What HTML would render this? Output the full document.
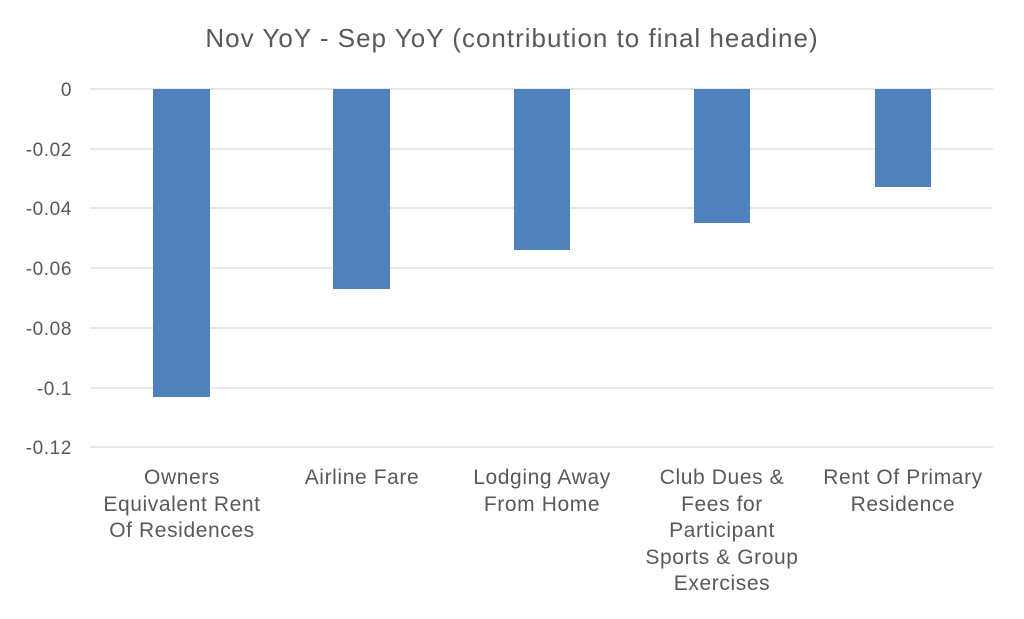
<!DOCTYPE html>
<html><head><meta charset="utf-8"><style>
body{margin:0;background:#fff;}
svg text{font-family:"Liberation Sans",sans-serif;fill:#595959;}
</style></head><body>
<svg width="1024" height="614" xmlns="http://www.w3.org/2000/svg">
<rect width="1024" height="614" fill="#fff"/>
<text x="512" y="47" font-size="26" letter-spacing="1" text-anchor="middle">Nov YoY - Sep YoY (contribution to final headine)</text>
<g stroke="#d9d9d9" stroke-width="1.3">
<line x1="90" x2="993" y1="89" y2="89"/>
<line x1="90" x2="993" y1="149" y2="149"/>
<line x1="90" x2="993" y1="208" y2="208"/>
<line x1="90" x2="993" y1="268" y2="268"/>
<line x1="90" x2="993" y1="328" y2="328"/>
<line x1="90" x2="993" y1="388" y2="388"/>
<line x1="90" x2="993" y1="447" y2="447"/>
</g>
<g font-size="19" letter-spacing="0.6" text-anchor="end">
<text x="72" y="96">0</text>
<text x="72" y="156">-0.02</text>
<text x="72" y="215">-0.04</text>
<text x="72" y="275">-0.06</text>
<text x="72" y="335">-0.08</text>
<text x="72" y="395">-0.1</text>
<text x="72" y="454">-0.12</text>
</g>
<g fill="#4f81bd">
<rect x="153" y="89" width="57" height="308"/>
<rect x="333" y="89" width="57" height="200"/>
<rect x="514" y="89" width="56" height="161"/>
<rect x="694" y="89" width="56" height="134"/>
<rect x="875" y="89" width="56" height="98"/>
</g>
<g font-size="21" letter-spacing="0.6" text-anchor="middle">
<text x="182" y="484">Owners</text>
<text x="182" y="511">Equivalent Rent</text>
<text x="182" y="537">Of Residences</text>
<text x="362" y="484">Airline Fare</text>
<text x="542" y="484">Lodging Away</text>
<text x="542" y="511">From Home</text>
<text x="722" y="484">Club Dues &amp;</text>
<text x="722" y="511">Fees for</text>
<text x="722" y="537">Participant</text>
<text x="722" y="564">Sports &amp; Group</text>
<text x="722" y="590">Exercises</text>
<text x="903" y="484">Rent Of Primary</text>
<text x="903" y="511">Residence</text>
</g>
</svg>
</body></html>
